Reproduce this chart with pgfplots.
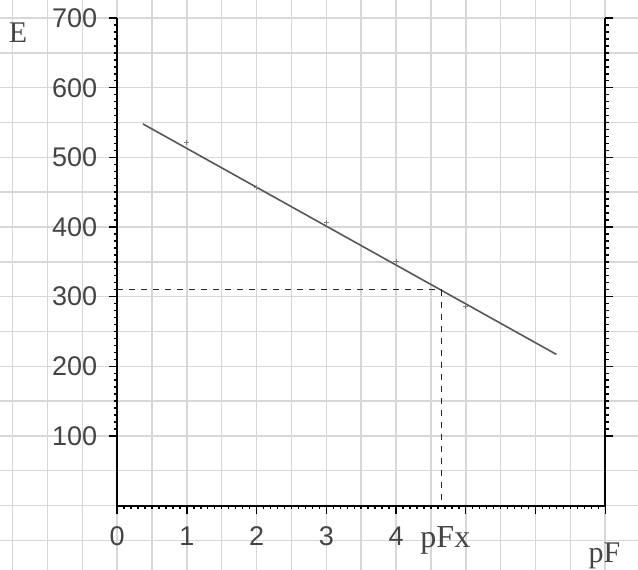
\documentclass[border=0pt]{standalone}
\usepackage{fontspec}
\setmainfont{Liberation Serif}
\setsansfont{Liberation Sans}
\usepackage{pgfplots}
\pgfplotsset{compat=1.18}
\definecolor{gridgray}{RGB}{215,215,215}
\definecolor{ink}{RGB}{68,68,68}

\begin{document}
\begin{tikzpicture}
% background grid covering the whole picture
\begin{axis}[
    name=bg,
    x=34.85pt, y=0.348pt,
    xmin=-1.68, xmax=7.47, ymin=-92, ymax=726,
    axis line style={draw=none},
    xtick={-1.5,-1,...,7}, ytick={-50,0,...,700},
    xticklabels={}, yticklabels={},
    major tick length=0pt,
    grid=major,
    major grid style={gridgray, line width=0.75pt},
]
\coordinate (O) at (axis cs:0,0);
\node[font=\rmfamily\fontsize{15}{15}\selectfont, text=ink, anchor=base] at (axis cs:-1.42,665) {E};
\node[font=\rmfamily\fontsize{15}{15}\selectfont, text=ink, anchor=base] at (axis cs:6.99,-82) {pF};
\end{axis}

% the plot itself
\begin{axis}[
    at={(O)}, anchor=south west,
    x=34.85pt, y=0.348pt,
    xmin=0, xmax=7, ymin=0, ymax=700,
    axis x line=bottom, axis y line=box,
    axis line style={line width=1pt, -},
    tick align=outside,
    xtick={0,...,7}, xticklabels={0,1,2,3,4,,,},
    ytick={100,200,...,700},
    minor x tick num=9, minor y tick num=9,
    major tick length=4pt, minor tick length=1.8pt,
    tick style={black, line width=0.7pt},
    tick label style={font=\sffamily\fontsize{13.5}{13.5}\selectfont, text=ink},
    xticklabel style={yshift=-3pt},
    yticklabel style={xshift=-2.5pt},
    /pgf/number format/assume math mode=true,
    extra x ticks={4.65},
    extra x tick labels={pFx},
    extra x tick style={major tick length=0pt,
        xticklabel style={font=\rmfamily\fontsize{16}{16}\selectfont, yshift=-4pt, xshift=2pt}},
    clip=false,
]
\addplot[ink!90, line width=0.8pt] coordinates {(0.37,548) (6.30,217)};
\addplot[only marks, mark=+, mark size=1.3pt, gray] coordinates {(1,521) (2,457) (3,407) (4,350) (5,286)};
\addplot[black!85, dashed, line width=0.6pt] coordinates {(0,310) (4.65,310) (4.65,0)};
\end{axis}

\pgfresetboundingbox
\useasboundingbox (bg.south west) rectangle (bg.north east);
\end{tikzpicture}
\end{document}
